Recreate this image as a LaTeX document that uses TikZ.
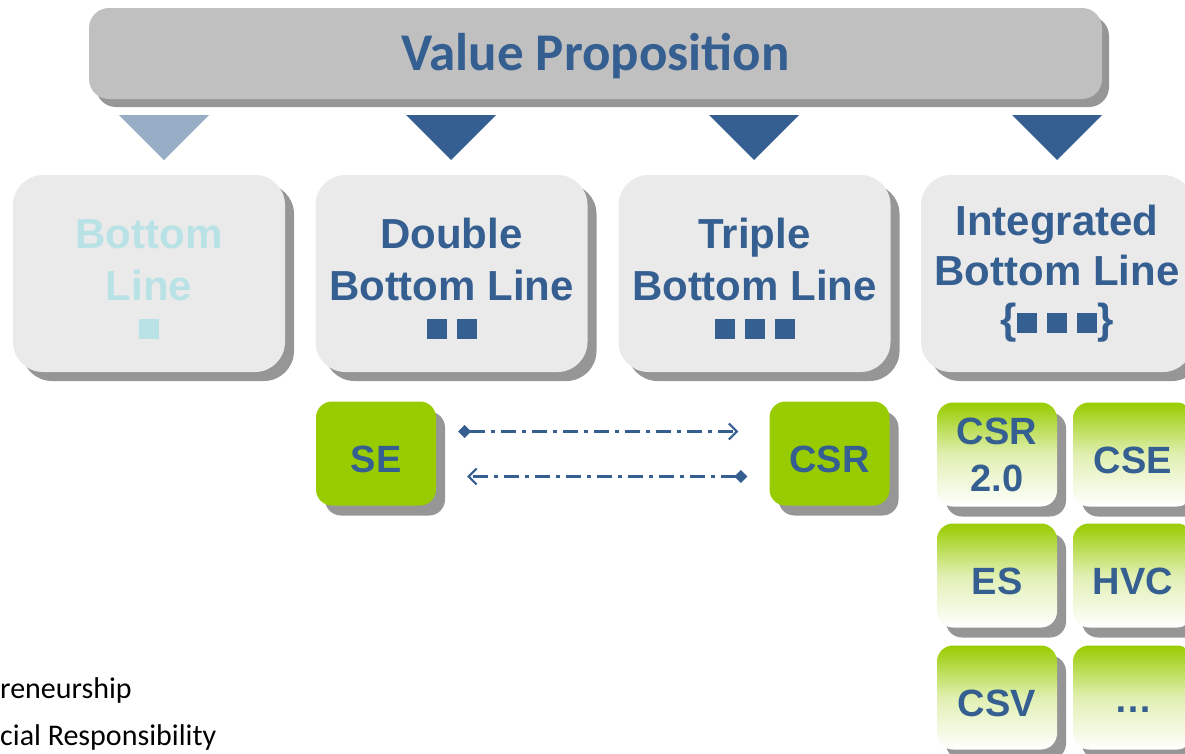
\documentclass[tikz,border=0pt]{standalone}
\usepackage{fontspec}
\setmainfont{Liberation Sans}
\newfontfamily\calib{Carlito}
\usetikzlibrary{shadows,arrows.meta}
\definecolor{navy}{HTML}{365F91}
\definecolor{paleblue}{HTML}{98AEC6}
\definecolor{paleaqua}{HTML}{B9E2E6}
\definecolor{bargray}{HTML}{C0C0C0}
\definecolor{cardgray}{HTML}{EAEAEA}
\definecolor{shadegray}{HTML}{969696}
\definecolor{leaf}{HTML}{99CC00}
\newcommand{\blk}{\rule{20pt}{20pt}}
\newcommand{\pad}{\rule{0pt}{40pt}}

\begin{document}
\begin{tikzpicture}[x=1pt,y=-1pt,
  card/.style={fill=cardgray,rounded corners=30pt,minimum width=272pt,
    minimum height=197pt,align=center,text=navy,
    font=\bfseries\fontsize{42}{52}\selectfont,
    drop shadow={shadow xshift=9pt,shadow yshift=-9pt,fill=shadegray,opacity=1}},
  tile/.style={rounded corners=16pt,minimum width=120pt,minimum height=104pt,
    text=navy,font=\bfseries\fontsize{38}{49}\selectfont,
    text height=37pt,text depth=0pt,
    drop shadow={shadow xshift=9pt,shadow yshift=-10pt,fill=shadegray,opacity=1}},
  solid tile/.style={tile,fill=leaf},
  fade tile/.style={tile,top color=leaf,bottom color=white,middle color=leaf!30!white},
  link/.style={navy,line width=2.2pt,dash pattern=on 15pt off 6pt on 4pt off 6pt,
    shorten <=22pt,shorten >=31pt,
    {Diamond[length=13pt,width=13pt]}-{Straight Barb[length=8pt,width=16pt,line width=2pt]}}]
  \useasboundingbox (0,0) rectangle (1185,753);
  \clip (0,0) rectangle (1185,753);
  \node[fill=bargray,rounded corners=20pt,minimum width=1013pt,minimum height=91pt,
    drop shadow={shadow xshift=7pt,shadow yshift=-8pt,fill=shadegray,opacity=1}]
    (vp) at (595.5,53.5) {};
  \node[text=navy,font=\calib\bfseries\fontsize{53}{60}\selectfont]
    (vptext) at (595.5,56) {Value Proposition};
  \fill[paleblue] (119,115) -- (209,115) -- (164,160) -- cycle;
  \foreach \x in {451,754,1057}
    \fill[navy] (\x-45,115) -- (\x+45,115) -- (\x,160) -- cycle;
  \node[card,text=paleaqua] (bl) at (149,273.5)
    {\pad Bottom\\Line\\[-14pt]\blk};
  \node[card] (dbl) at (451.5,273.5)
    {\pad Double\\Bottom Line\\[-14pt]\blk\hspace{10pt}\blk};
  \node[card] (tbl) at (754.5,273.5)
    {\pad Triple\\Bottom Line\\[-14pt]\blk\hspace{10pt}\blk\hspace{10pt}\blk};
  \node[card,font=\bfseries\fontsize{42}{50}\selectfont] (ibl) at (1057,273.5)
    {Integrated\\Bottom Line\\[-2pt]\{\blk\hspace{10pt}\blk\hspace{10pt}\blk\}};
  \node[solid tile] (se) at (376,453.5) {SE};
  \node[solid tile] (csr) at (829.5,453.5) {CSR};
  \draw[link] ([yshift=22pt]se.east) -- ([yshift=22pt]csr.west);
  \draw[link] ([yshift=-23pt]csr.west) -- ([yshift=-23pt]se.east);
  \node[fade tile,align=center,text height=,text depth=] (csrtwo) at (997,454.5)
    {CSR\\[-2pt]2.0};
  \node[fade tile] (cse) at (1133,454.5) {CSE};
  \node[fade tile] (es) at (997,575.5) {ES};
  \node[fade tile] (hvc) at (1133,575.5) {HVC};
  \node[fade tile] (csv) at (997,697.5) {CSV};
  \node[fade tile,text height=29pt] (more) at (1133,697.5) {\dots};
  \node[anchor=base west,inner sep=0pt,font=\calib\fontsize{30}{36}\selectfont]
    (entre) at (0,698) {reneurship};
  \node[anchor=base west,inner sep=0pt,font=\calib\fontsize{30}{36}\selectfont]
    (resp) at (0,745) {cial Responsibility};
\end{tikzpicture}
\end{document}
